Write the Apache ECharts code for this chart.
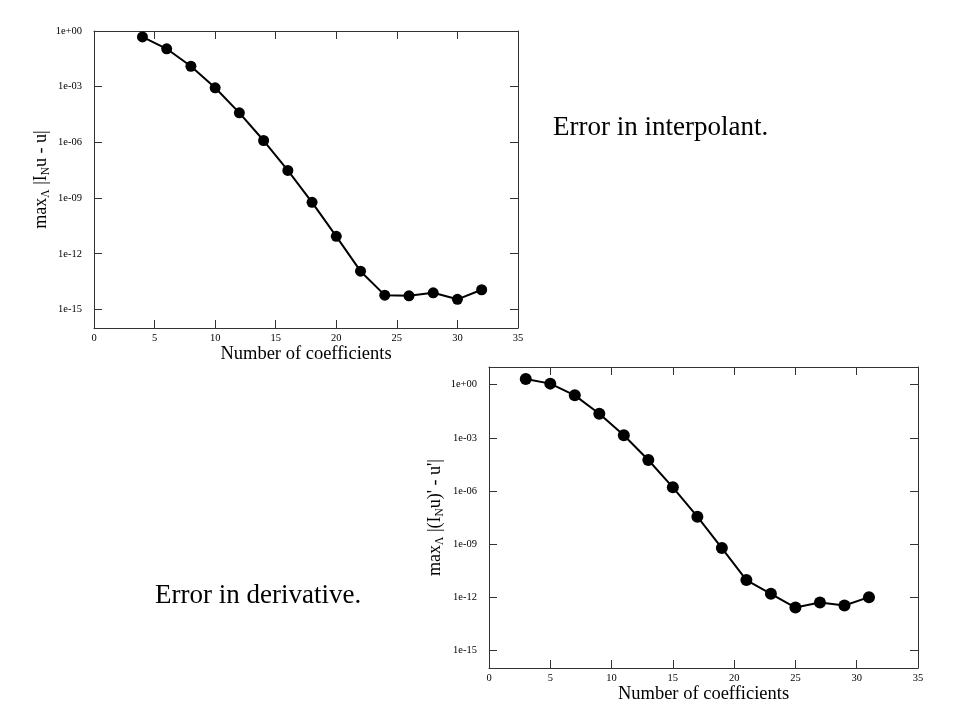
<!DOCTYPE html>
<html>
<head>
<meta charset="utf-8">
<script src="https://cdn.jsdelivr.net/npm/echarts@6/dist/echarts.min.js"></script>
<style>html,body{margin:0;padding:0;background:#fff}#c{width:960px;height:720px}</style>
</head>
<body>
<div id="c"></div>
<script>
// Chart 1: error in interpolant
const interpN = [4, 6, 8, 10, 12, 14, 16, 18, 20, 22, 24, 26, 28, 30, 32];
const interpErr = [0.48, 0.11, 1.26e-2, 8.7e-4, 3.9e-5, 1.26e-6, 3.1e-8, 5.9e-10, 8.7e-12, 1.15e-13, 5.9e-15, 5.4e-15, 7.9e-15, 3.5e-15, 1.15e-14];
// Chart 2: error in derivative
const derivN = [3, 5, 7, 9, 11, 13, 15, 17, 19, 21, 23, 25, 27, 29, 31];
const derivErr = [2.1, 1.15, 0.25, 0.023, 1.4e-3, 5.6e-5, 1.6e-6, 3.5e-8, 5.9e-10, 9.3e-12, 1.55e-12, 2.6e-13, 5e-13, 3.4e-13, 1e-12];
// tick labels
const xTicks = [0, 5, 10, 15, 20, 25, 30, 35];
const yTicks = [1e-15, 1e-12, 1e-9, 1e-6, 1e-3, 1];
const yTicks2 = [1e-15, 1e-12, 1e-9, 1e-6, 1e-3, 1];

const SERIF = '"Liberation Serif","DejaVu Serif",serif';
const AXC = '#333';

function expFmt(v) {
  const e = Math.round(Math.log10(v));
  const s = e < 0 ? '-' : '+';
  const a = Math.abs(e);
  return '1e' + s + (a < 10 ? '0' : '') + a;
}

const rich = {
  a: { fontFamily: SERIF, fontSize: 18, color: '#000' },
  s: { fontFamily: SERIF, fontSize: 11.5, color: '#000', padding: [9, 0, 0, 0] }
};

function xAxes(gi) {
  return [
    {
      type: 'value', gridIndex: gi, min: 0, max: 35, interval: 5, position: 'bottom',
      name: 'Number of coefficients', nameLocation: 'middle', nameGap: 9,
      nameTextStyle: { fontFamily: SERIF, fontSize: 18.5, color: '#000' },
      axisLine: { show: true, onZero: false, lineStyle: { color: AXC, width: 1 } },
      axisTick: { show: true, inside: true, length: 8, lineStyle: { color: AXC } },
      axisLabel: { fontFamily: SERIF, fontSize: 10.5, color: '#000', margin: 5, customValues: xTicks },
      splitLine: { show: false }
    },
    {
      type: 'value', gridIndex: gi, min: 0, max: 35, interval: 5, position: 'top',
      axisLine: { show: true, onZero: false, lineStyle: { color: AXC, width: 1 } },
      axisTick: { show: true, inside: true, length: 8, lineStyle: { color: AXC } },
      axisLabel: { show: false },
      splitLine: { show: false }
    }
  ];
}

function yAxes(gi, max, ticks, name, gap) {
  return [
    {
      type: 'log', logBase: 10, gridIndex: gi, min: 1e-16, max: max, position: 'left',
      name: name, nameLocation: 'middle', nameGap: gap, nameRotate: 90,
      nameTextStyle: { rich: rich },
      axisLine: { show: true, onZero: false, lineStyle: { color: AXC, width: 1 } },
      axisTick: { show: true, inside: true, length: 8, lineStyle: { color: AXC }, customValues: ticks },
      axisLabel: { fontFamily: SERIF, fontSize: 10.5, color: '#000', margin: 12, customValues: ticks, formatter: expFmt },
      splitLine: { show: false }
    },
    {
      type: 'log', logBase: 10, gridIndex: gi, min: 1e-16, max: max, position: 'right',
      axisLine: { show: true, onZero: false, lineStyle: { color: AXC, width: 1 } },
      axisTick: { show: true, inside: true, length: 8, lineStyle: { color: AXC }, customValues: ticks },
      axisLabel: { show: false, customValues: ticks },
      splitLine: { show: false }
    }
  ];
}

const chart = echarts.init(document.getElementById('c'), null, { renderer: 'canvas' });
chart.setOption({
  backgroundColor: '#fff',
  animation: false,
  grid: [
    { left: 94, top: 31, width: 424, height: 297 },
    { left: 489, top: 367, width: 429, height: 301 }
  ],
  xAxis: [...xAxes(0), ...xAxes(1)],
  yAxis: [
    ...yAxes(0, 1, yTicks, '{a|max}{s|Λ}{a| |I}{s|N}{a|u - u|}', 42),
    ...yAxes(1, 10, yTicks2, "{a|max}{s|Λ}{a| |(I}{s|N}{a|u)' - u'|}", 43)
  ],
  series: [
    {
      type: 'line', xAxisIndex: 0, yAxisIndex: 0,
      data: interpN.map((n, i) => [n, interpErr[i]]),
      symbol: 'circle', symbolSize: 11,
      lineStyle: { color: '#000', width: 2 },
      itemStyle: { color: '#000' }
    },
    {
      type: 'line', xAxisIndex: 2, yAxisIndex: 2,
      data: derivN.map((n, i) => [n, derivErr[i]]),
      symbol: 'circle', symbolSize: 12,
      lineStyle: { color: '#000', width: 2 },
      itemStyle: { color: '#000' }
    }
  ],
  graphic: [
    { type: 'text', left: 553, top: 114, style: { text: 'Error in interpolant.', font: '27px ' + SERIF, fill: '#000' } },
    { type: 'text', left: 155, top: 582, style: { text: 'Error in derivative.', font: '27px ' + SERIF, fill: '#000' } }
  ]
});
</script>
</body>
</html>
